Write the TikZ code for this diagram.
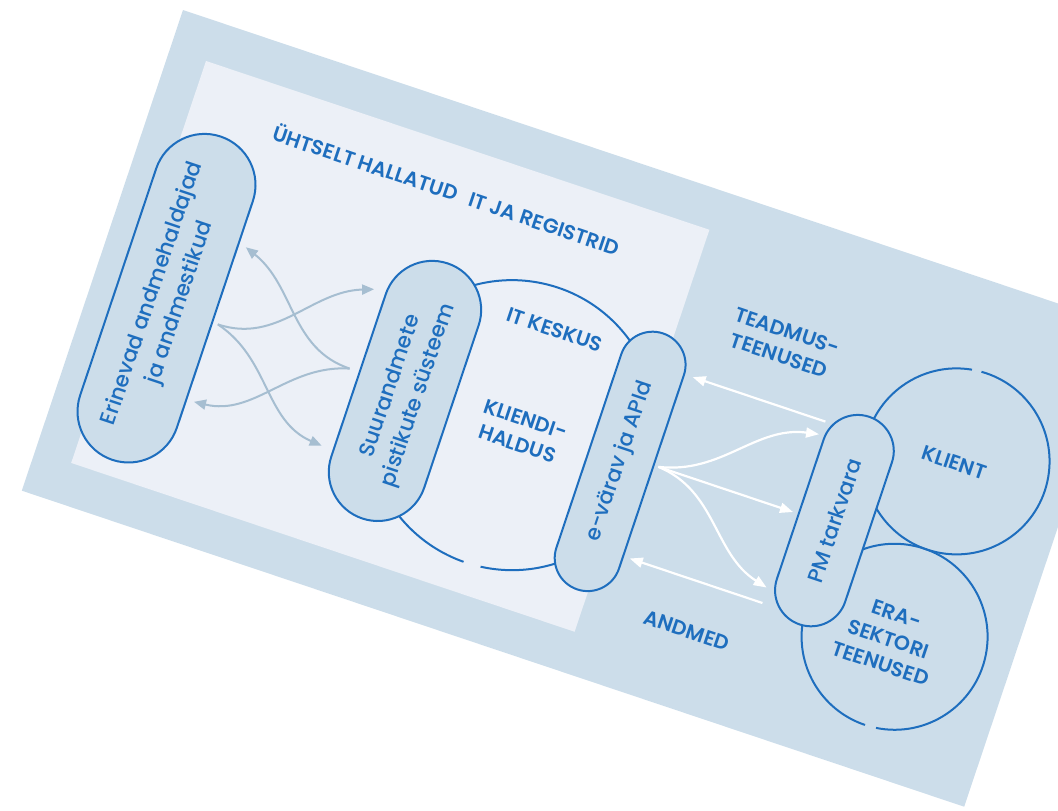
\documentclass[tikz,border=0pt]{standalone}
\usepackage{fontspec}
\setmainfont{Poppins}
\IfFontExistsTF{Poppins SemiBold}{\newfontfamily\capsfont{Poppins SemiBold}}{\newcommand\capsfont{\bfseries}}
\IfFontExistsTF{Poppins Medium}{\newfontfamily\pillfont{Poppins Medium}}{\newcommand\pillfont{\normalfont}}
\usetikzlibrary{shapes.misc,arrows.meta}
\definecolor{bgout}{HTML}{CCDDEA}
\definecolor{bgin}{HTML}{ECF0F7}
\definecolor{lineblue}{HTML}{1E6EBE}
\definecolor{grayarr}{HTML}{A6BED1}
\tikzset{
  pill/.style={rounded rectangle, draw=lineblue, line width=2pt, fill=bgout, text=lineblue,
    font=\pillfont\fontsize{21.5}{29}\selectfont, align=center, inner sep=0pt, rotate=90},
  capslbl/.style={text=lineblue, font=\capsfont\fontsize{20.5}{26}\selectfont, align=center, inner sep=0pt},
  garrow/.style={draw=grayarr, line width=2pt, -{Triangle[length=12pt,width=10pt]}},
  warrow/.style={draw=white, line width=2.2pt, -{Triangle[length=13pt,width=10pt]}},
  ring/.style={draw=lineblue, line width=2pt},
}
\begin{document}
\begin{tikzpicture}[x=1pt,y=1pt]
\useasboundingbox (0,0) rectangle (1058,-811);
\begin{scope}[shift={(183,-10)}, rotate=-18.54, transform shape]
  % backgrounds
  \fill[bgout] (0,0) rectangle (994,-507);
  \fill[bgin] (38,-41) rectangle (569,-465);
  % gray arrows
  \coordinate (s1) at (133,-287);
  \coordinate (s2) at (272,-287);
  \coordinate (ta) at (270,-204);
  \coordinate (tb) at (270,-369);
  \coordinate (tc) at (135,-205);
  \coordinate (td) at (135,-368);
  \draw[garrow] (s1) to[out=0,in=200] (ta);
  \draw[garrow] (s1) to[out=-15,in=175] (tb);
  \draw[garrow] (s2) to[out=180,in=-20] (tc);
  \draw[garrow] (s2) to[out=195,in=5] (td);
  % big circle
  \coordinate (itc) at (444,-289);
  \draw[ring] ([shift={(-84:145)}]itc) arc[start angle=-84, end angle=269, radius=145];
  % pills
  \node[pill, minimum width=341, minimum height=102] (src) at (76,-278.5) {Erinevad andmehaldajad\\ja andmestikud};
  \node[pill, minimum width=269, minimum height=98] (bds) at (331.6,-290.6) {Suurandmete\\pistikute süsteem};
  \node[pill, minimum width=270, minimum height=66] (gw) at (558,-289) {e-värav ja APId};
  % white arrows
  \coordinate (sw) at (596,-282);
  \coordinate (tg) at (738,-200);
  \coordinate (th) at (738,-282);
  \coordinate (ti) at (737,-362);
  \coordinate (e1) at (740,-186);
  \coordinate (e2) at (600,-186);
  \coordinate (f1) at (738,-378);
  \coordinate (f2) at (598,-378);
  \draw[warrow] (e1) -- (e2);
  \draw[warrow] (f1) -- (f2);
  \draw[warrow] (sw) to[out=12,in=191] (tg);
  \draw[warrow] (sw) -- (th);
  \draw[warrow] (sw) to[out=-4,in=166] (ti);
  % client circles
  \coordinate (klc) at (877,-182);
  \coordinate (erc) at (874,-368);
  \draw[ring] ([shift={(99:93)}]klc) arc[start angle=99, end angle=453, radius=93];
  \draw[ring] ([shift={(-83:93)}]erc) arc[start angle=-83, end angle=270, radius=93];
  \node[pill, minimum width=219, minimum height=72] (pm) at (780,-277) {PM tarkvara};
  % labels
  \node[capslbl] (title) at (307,-86) {ÜHTSELT HALLATUD\hspace{0.4em} IT JA REGISTRID};
  \node[capslbl] (itk) at (454,-185) {IT KESKUS};
  \node[capslbl] (kh) at (455,-292) {KLIENDI-\\HALDUS};
  \node[capslbl] (tm) at (675,-125) {TEADMUS-\\TEENUSED};
  \node[capslbl] (an) at (675,-428) {ANDMED};
  \node[capslbl] (kl) at (875,-184) {KLIENT};
  \node[capslbl] (era) at (869,-372) {ERA-\\SEKTORI\\TEENUSED};
\end{scope}
\end{tikzpicture}
\end{document}
